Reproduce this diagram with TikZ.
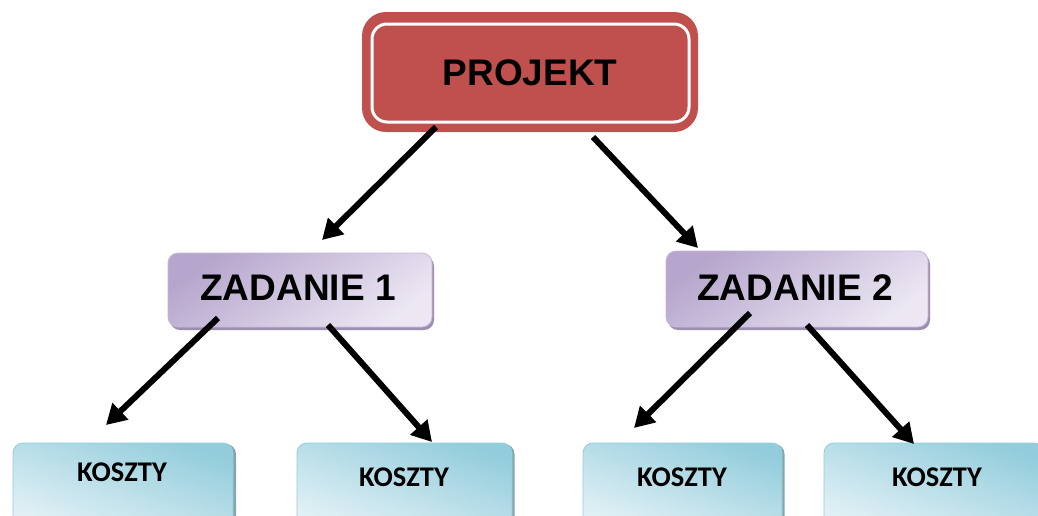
\documentclass[tikz,border=0pt]{standalone}
\usepackage{fontspec}
\setmainfont{Liberation Sans}
\newfontfamily\calibfont{Carlito}
\usetikzlibrary{arrows.meta}
\definecolor{projred}{HTML}{C0504D}
\definecolor{purpD}{HTML}{B6A6CD}
\definecolor{purpL}{HTML}{ECE7F3}
\definecolor{purpS}{HTML}{9C8EB0}
\definecolor{cyanD}{HTML}{93CDDC}
\definecolor{cyanL}{HTML}{E0F0F5}
\definecolor{cyanS}{HTML}{86A6AE}
\tikzset{
  projbox/.style={rounded corners=24pt, fill=projred, minimum width=336pt, minimum height=120pt, inner sep=0pt},
  taskbox/.style={rounded corners=10pt, top color=purpD, bottom color=purpL, shading angle=35, draw=purpD!80, line width=0.8pt, inner sep=0pt},
  taskshadow/.style={rounded corners=10pt, fill=purpS, inner sep=0pt},
  costbox/.style={rounded corners=10pt, top color=cyanD, bottom color=cyanL, shading angle=-20, draw=cyanD, line width=0.8pt, inner sep=0pt},
  costshadow/.style={rounded corners=10pt, fill=cyanS, inner sep=0pt},
  bigtext/.style={font=\bfseries\fontsize{37}{40}\selectfont, text=black},
  costtext/.style={font=\calibfont\bfseries\fontsize{28.5}{32}\selectfont, text=black},
  conn/.style={line width=6pt, -{Triangle[length=20pt,width=22pt]}}
}
\begin{document}
\begin{tikzpicture}[x=1pt,y=-1pt]
\useasboundingbox (0,0) rectangle (1038,515);
\clip (0,0) rectangle (1038,515);
\fill[white] (0,0) rectangle (1038,515);
% PROJEKT
\node[projbox] (proj) at (530,72) {};
\draw[white, line width=3pt, rounded corners=15pt] (372,24) rectangle (689,122);
\node[bigtext] (projt) at (530,73) {PROJEKT};
% ZADANIE boxes
\node[taskshadow, minimum width=264pt, minimum height=74pt] (z1s) at (302,293) {};
\node[taskbox, minimum width=264pt, minimum height=74pt] (z1) at (300,290) {};
\node[bigtext] (z1t) at (298,288) {ZADANIE 1};
\node[taskshadow, minimum width=262pt, minimum height=76pt] (z2s) at (799,292) {};
\node[taskbox, minimum width=262pt, minimum height=76pt] (z2) at (797,289) {};
\node[bigtext] (z2t) at (795,288) {ZADANIE 2};
% KOSZTY boxes
\node[costshadow, minimum width=220pt, minimum height=84pt] (k1s) at (126,486) {};
\node[costbox, minimum width=220pt, minimum height=84pt] (k1) at (123,485) {};
\node[costtext] (k1t) at (122,472) {KOSZTY};
\node[costshadow, minimum width=215pt, minimum height=84pt] (k2s) at (407,486) {};
\node[costbox, minimum width=215pt, minimum height=84pt] (k2) at (404.5,485) {};
\node[costtext] (k2t) at (404,477) {KOSZTY};
\node[costshadow, minimum width=199pt, minimum height=84pt] (k3s) at (685,486) {};
\node[costbox, minimum width=199pt, minimum height=84pt] (k3) at (682.5,485) {};
\node[costtext] (k3t) at (682,477) {KOSZTY};
\node[costshadow, minimum width=220pt, minimum height=84pt] (k4s) at (937,486) {};
\node[costbox, minimum width=220pt, minimum height=84pt] (k4) at (934,485) {};
\node[costtext] (k4t) at (937,477) {KOSZTY};
% connector end points
\coordinate (pa) at (436,127);
\coordinate (pb) at (593,137);
\coordinate (z1in) at (322,240);
\coordinate (z2in) at (698,248);
\coordinate (z1a) at (218,318);
\coordinate (z1b) at (328,325);
\coordinate (z2a) at (750,313);
\coordinate (z2b) at (807,325);
\coordinate (k1in) at (106,425);
\coordinate (k2in) at (432,442);
\coordinate (k3in) at (634,428);
\coordinate (k4in) at (914,444);
\draw[conn] (pa) -- (z1in);
\draw[conn] (pb) -- (z2in);
\draw[conn] (z1a) -- (k1in);
\draw[conn] (z1b) -- (k2in);
\draw[conn] (z2a) -- (k3in);
\draw[conn] (z2b) -- (k4in);
\end{tikzpicture}
\end{document}
